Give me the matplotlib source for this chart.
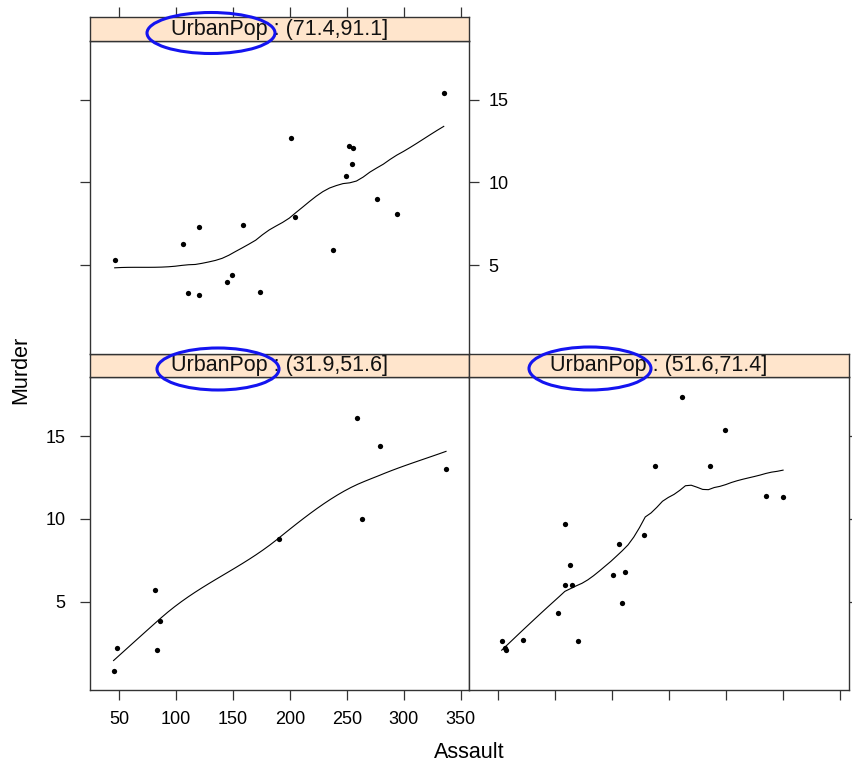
import numpy as np
import matplotlib
matplotlib.use("Agg")
import matplotlib.pyplot as plt
from matplotlib.patches import Ellipse

plt.rcParams['font.family'] = ['Liberation Sans', 'DejaVu Sans']

# USArrests: Murder vs Assault, conditioned on UrbanPop intervals
strip_labels = ["UrbanPop : (31.9,51.6]", "UrbanPop : (51.6,71.4]", "UrbanPop : (71.4,91.1]"]

assault_low = [263, 190, 83, 259, 337, 45, 279, 86, 48, 81]
murder_low = [10.0, 8.8, 2.1, 16.1, 13.0, 0.8, 14.4, 3.8, 2.2, 5.7]

assault_mid = [236, 211, 120, 113, 56, 115, 109, 249, 300, 72, 178,
               109, 102, 57, 285, 151, 159, 188, 156, 53, 161]
murder_mid = [13.2, 17.4, 2.6, 7.2, 2.2, 6.0, 9.7, 15.4, 11.3, 2.7, 9.0,
              6.0, 4.3, 2.1, 11.4, 6.6, 4.9, 13.2, 8.5, 2.6, 6.8]

assault_high = [294, 276, 204, 110, 238, 335, 46, 249, 149, 255, 252,
                159, 254, 120, 106, 174, 201, 120, 145]
murder_high = [8.1, 9.0, 7.9, 3.3, 5.9, 15.4, 5.3, 10.4, 4.4, 12.1, 12.2,
               7.4, 11.1, 7.3, 6.3, 3.4, 12.7, 3.2, 4.0]

x_ticks = [50, 100, 150, 200, 250, 300, 350]
y_ticks = [5, 10, 15]


def loess_curve(x, y, span=2/3, iterations=4, n_eval=50):
    """Local linear loess (tricube weights, bisquare robustness), fitted at
    vertices and joined by cubic Hermite interpolation."""
    x = np.asarray(x, float)
    y = np.asarray(y, float)
    n = len(x)
    q = max(int(np.floor(n * span)), 2)

    def fit_at(x0, rw):
        d = np.abs(x - x0)
        h = np.sort(d)[q - 1] * 1.0001
        w = np.clip(1 - (d / h) ** 3, 0, None) ** 3 * rw
        sw = w.sum()
        xm = (w * x).sum() / sw
        ym = (w * y).sum() / sw
        sxx = (w * (x - xm) ** 2).sum()
        b = (w * (x - xm) * (y - ym)).sum() / sxx if sxx > 0 else 0.0
        return ym + b * (x0 - xm), b

    rw = np.ones(n)
    for _ in range(iterations - 1):
        fitted = np.array([fit_at(xi, rw)[0] for xi in x])
        res = y - fitted
        s = np.median(np.abs(res))
        if s <= 0:
            break
        u = res / (6 * s)
        rw = np.clip(1 - u ** 2, 0, None) ** 2

    verts = np.unique(x)
    vals = np.array([fit_at(v, rw) for v in verts])
    fv, dv = vals[:, 0], vals[:, 1]

    xs = np.linspace(x.min(), x.max(), n_eval)
    idx = np.clip(np.searchsorted(verts, xs, side='right') - 1, 0, len(verts) - 2)
    x0, x1 = verts[idx], verts[idx + 1]
    hh = x1 - x0
    t = (xs - x0) / hh
    h00 = 2 * t**3 - 3 * t**2 + 1
    h10 = t**3 - 2 * t**2 + t
    h01 = -2 * t**3 + 3 * t**2
    h11 = t**3 - t**2
    ys = h00 * fv[idx] + h10 * hh * dv[idx] + h01 * fv[idx + 1] + h11 * hh * dv[idx + 1]
    return xs, ys


all_x = np.concatenate([assault_low, assault_mid, assault_high])
all_y = np.concatenate([murder_low, murder_mid, murder_high])
pad = 0.07
xr = all_x.max() - all_x.min()
yr = all_y.max() - all_y.min()
xlim = (all_x.min() - pad * xr, all_x.max() + pad * xr)
ylim = (all_y.min() - pad * yr, all_y.max() + pad * yr)

W, H = 852, 762
fig = plt.figure(figsize=(W / 100, H / 100), dpi=100)
fig.patch.set_facecolor('white')


def rect(x0, y0, x1, y1):
    return [x0 / W, 1 - y1 / H, (x1 - x0) / W, (y1 - y0) / H]


edge = '#333333'
strip_bg = '#FFE5CC'
tick_fs = 13
tick_kw = dict(direction='out', length=7, width=0.9, color=edge,
               labelsize=tick_fs, labelcolor='black')

panels = [
    # (panel rect, strip rect, x data, y data, label index)
    ((90.3, 377.3, 469.3, 690.3), (90.3, 353.7, 469.3, 377.3), assault_low, murder_low, 0),
    ((469.3, 377.3, 848.5, 690.3), (469.3, 353.7, 848.5, 377.3), assault_mid, murder_mid, 1),
    ((90.3, 41.0, 469.3, 353.7), (90.3, 17.0, 469.3, 41.0), assault_high, murder_high, 2),
]

axes = []
for prect, srect, xv, yv, li in panels:
    ax = fig.add_axes(rect(*prect))
    ax.set_xlim(xlim)
    ax.set_ylim(ylim)
    ax.plot(xv, yv, 'o', color='black', markersize=3.8, markeredgewidth=0)
    cx, cy = loess_curve(xv, yv)
    ax.plot(cx, cy, color='black', lw=0.8)
    for sp in ax.spines.values():
        sp.set_color(edge)
        sp.set_linewidth(1.0)
    ax.set_xticks(x_ticks)
    ax.set_yticks(y_ticks)
    ax.tick_params(axis='both', **tick_kw)

    sax = fig.add_axes(rect(*srect), sharex=ax)
    sax.set_facecolor(strip_bg)
    sax.set_ylim(0, 1)
    for sp in sax.spines.values():
        sp.set_color(edge)
        sp.set_linewidth(1.0)
    sax.tick_params(axis='both', left=False, right=False, bottom=False, top=False,
                    labelleft=False, labelbottom=False, labeltop=False, labelright=False)
    sax.text(0.5, 0.5, strip_labels[li], transform=sax.transAxes, ha='center',
             va='center', fontsize=15.5, color='#111111')
    axes.append((ax, sax))

(ax_bl, s_bl), (ax_br, s_br), (ax_tl, s_tl) = axes

# bottom-left: labelled x axis below, labelled y axis on the left
ax_bl.tick_params(axis='x', bottom=True, top=False, labelbottom=True, pad=8)
ax_bl.tick_params(axis='y', left=True, right=False, labelleft=True, pad=11)

# bottom-right: bare ticks below and on the right
ax_br.tick_params(axis='x', bottom=True, top=False, labelbottom=False)
ax_br.tick_params(axis='y', left=False, right=True, labelleft=False, labelright=False)

# top-left: bare ticks on the left, labelled ticks on the right, bare ticks above strip
ax_tl.tick_params(axis='x', bottom=False, top=False, labelbottom=False)
ax_tl.tick_params(axis='y', left=True, right=True, labelleft=False, labelright=True, pad=7)
s_tl.tick_params(axis='x', top=True, labeltop=False, direction='out', length=7,
                 width=0.9, color=edge)

fig.text(469.5 / W, 1 - 752 / H, 'Assault', ha='center', va='center', fontsize=15.5)
fig.text(21 / W, 1 - 370 / H, 'Murder', ha='center', va='center', rotation=90, fontsize=15.5)

# highlight ellipses around the conditioning variable name
for cxp, cyp, wp, hp in [(211, 33, 128, 41), (218, 369, 122, 42), (590, 368.5, 122, 43)]:
    e = Ellipse((cxp / W, 1 - cyp / H), wp / W, hp / H, transform=fig.transFigure,
                fill=False, edgecolor='#1414F0', linewidth=2.2, zorder=10)
    fig.add_artist(e)

fig.savefig('out.png', dpi=100, facecolor='white')
